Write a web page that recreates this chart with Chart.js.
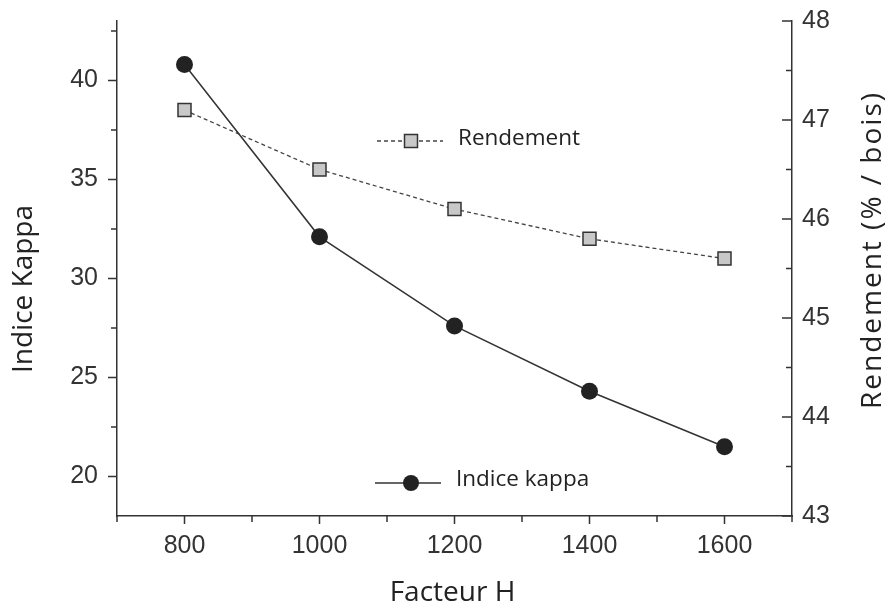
<!DOCTYPE html>
<html>
<head>
<meta charset="utf-8">
<script src="https://cdn.jsdelivr.net/npm/chart.js@4"></script>
<style>
  body { margin: 0; background: #fff; }
</style>
</head>
<body>
<canvas id="myChart" width="890" height="610"></canvas>
<script>
const facteurH = [800, 1000, 1200, 1400, 1600];
const indiceKappa = [40.8, 32.1, 27.6, 24.3, 21.5];
const rendement = [47.1, 46.5, 46.1, 45.8, 45.6];

const xTicks = [800, 1000, 1200, 1400, 1600];
const kappaTicks = [20, 25, 30, 35, 40];
const rendTicks = [43, 44, 45, 46, 47, 48];

const tickFont = { family: 'Liberation Sans', size: 25 };
const titleFont = '28px "Open Sans"';
const legendFont = '22.5px "Open Sans"';

const asTicks = arr => scale => { scale.ticks = arr.map(v => ({ value: v })); };
const plain = v => String(v);
const fitY = w => s => { s.width = w; s.paddingTop = 0; s.paddingBottom = 0; };

// ticks majeurs + mineurs, dessinés depuis les échelles
const axisTicks = {
  id: 'axisTicks',
  afterDraw(chart) {
    const ctx = chart.ctx;
    const { x, yK, yR } = chart.scales;
    ctx.save();
    ctx.strokeStyle = '#333';
    ctx.lineWidth = 1.5;
    ctx.beginPath();
    for (let v = 700; v <= 1700; v += 100) {
      const px = x.getPixelForValue(v);
      const len = v % 200 === 0 ? 8 : 6;
      ctx.moveTo(px, x.top);
      ctx.lineTo(px, x.top + len);
    }
    for (let v = 20; v <= 43; v += 2.5) {
      const py = yK.getPixelForValue(v);
      const len = v % 5 === 0 ? 9 : 6;
      ctx.moveTo(yK.right, py);
      ctx.lineTo(yK.right - len, py);
    }
    for (let v = 43; v <= 48.001; v += 0.5) {
      const py = yR.getPixelForValue(v);
      const len = Math.abs(v - Math.round(v)) < 0.01 ? 10 : 6;
      ctx.moveTo(yR.left, py);
      ctx.lineTo(yR.left - len, py);
    }
    ctx.stroke();
    ctx.restore();
  }
};

// titres des axes et légende dans la zone du graphique
const annotations = {
  id: 'annotations',
  afterDraw(chart) {
    const ctx = chart.ctx;
    const a = chart.chartArea;
    ctx.save();
    ctx.fillStyle = '#222';
    ctx.font = titleFont;
    ctx.textAlign = 'center';
    ctx.textBaseline = 'middle';
    ctx.fillText('Facteur H', (a.left + a.right) / 2 - 2, 593);

    ctx.translate(24, 289);
    ctx.rotate(-Math.PI / 2);
    ctx.fillText('Indice Kappa', 0, 0);
    ctx.setTransform(1, 0, 0, 1, 0, 0);
    ctx.scale(chart.currentDevicePixelRatio, chart.currentDevicePixelRatio);

    ctx.translate(873, 250);
    ctx.rotate(-Math.PI / 2);
    ctx.letterSpacing = '2px';
    ctx.fillText('Rendement (% / bois)', 0, 0);
    ctx.restore();

    // légende
    ctx.save();
    ctx.font = legendFont;
    ctx.textBaseline = 'middle';
    ctx.textAlign = 'left';

    // Rendement
    let ly = 141;
    ctx.strokeStyle = '#444';
    ctx.lineWidth = 1.3;
    ctx.setLineDash([4, 3]);
    ctx.beginPath();
    ctx.moveTo(377, ly);
    ctx.lineTo(443, ly);
    ctx.stroke();
    ctx.setLineDash([]);
    ctx.fillStyle = '#c8c8c8';
    ctx.fillRect(404.5, ly - 6.5, 13, 13);
    ctx.strokeStyle = '#333';
    ctx.lineWidth = 1.5;
    ctx.strokeRect(404.5, ly - 6.5, 13, 13);
    ctx.fillStyle = '#222';
    ctx.fillText('Rendement', 458, ly - 2);

    // Indice kappa
    ly = 483;
    ctx.strokeStyle = '#333';
    ctx.lineWidth = 1.5;
    ctx.beginPath();
    ctx.moveTo(375, ly);
    ctx.lineTo(441, ly);
    ctx.stroke();
    ctx.fillStyle = '#222';
    ctx.beginPath();
    ctx.arc(411, ly, 8, 0, Math.PI * 2);
    ctx.fill();
    ctx.fillText('Indice kappa', 456, ly - 3);
    ctx.restore();
  }
};

const ctx = document.getElementById('myChart').getContext('2d');
const myChart = new Chart(ctx, {
  type: 'line',
  data: {
    datasets: [
      {
        label: 'Indice kappa',
        data: facteurH.map((h, i) => ({ x: h, y: indiceKappa[i] })),
        yAxisID: 'yK',
        borderColor: '#333',
        borderWidth: 1.5,
        pointStyle: 'circle',
        pointRadius: 8.5,
        pointBackgroundColor: '#222',
        pointBorderColor: '#222',
        pointBorderWidth: 0,
        tension: 0
      },
      {
        label: 'Rendement',
        data: facteurH.map((h, i) => ({ x: h, y: rendement[i] })),
        yAxisID: 'yR',
        borderColor: '#444',
        borderWidth: 1.3,
        borderDash: [4, 3],
        pointStyle: 'rect',
        pointRadius: 9.2,
        pointBackgroundColor: '#c8c8c8',
        pointBorderColor: '#333',
        pointBorderWidth: 1.5,
        tension: 0
      }
    ]
  },
  options: {
    responsive: false,
    animation: false,
    layout: { padding: { top: 21, left: 0, right: 0, bottom: 0 } },
    plugins: {
      legend: { display: false },
      tooltip: { enabled: false }
    },
    scales: {
      x: {
        type: 'linear',
        min: 700,
        max: 1700,
        afterBuildTicks: asTicks(xTicks),
        afterFit: s => { s.height = 94; s.paddingLeft = 0; s.paddingRight = 0; },
        grid: { display: true, drawOnChartArea: false, drawTicks: false },
        border: { display: true, color: '#333', width: 1.5 },
        ticks: { font: tickFont, color: '#333', padding: 15, maxRotation: 0, callback: plain }
      },
      yK: {
        type: 'linear',
        position: 'left',
        min: 18,
        max: 43,
        afterBuildTicks: asTicks(kappaTicks),
        afterFit: fitY(117),
        grid: { display: true, drawOnChartArea: false, drawTicks: false },
        border: { display: true, color: '#333', width: 1.5 },
        ticks: { font: tickFont, color: '#333', padding: 19, callback: plain }
      },
      yR: {
        type: 'linear',
        position: 'right',
        min: 43,
        max: 48,
        afterBuildTicks: asTicks(rendTicks),
        afterFit: fitY(98),
        grid: { display: true, drawOnChartArea: false, drawTicks: false },
        border: { display: true, color: '#333', width: 1.5 },
        ticks: { font: tickFont, color: '#333', padding: 10, callback: plain }
      }
    }
  },
  plugins: [axisTicks, annotations]
});
</script>
</body>
</html>
